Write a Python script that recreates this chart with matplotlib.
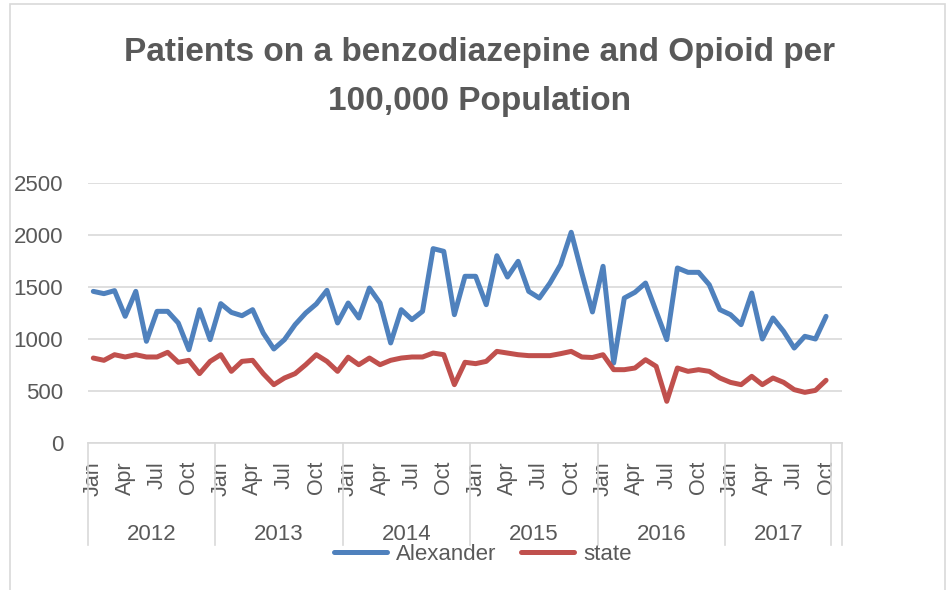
import matplotlib.pyplot as plt
from matplotlib.patches import Rectangle
from matplotlib.transforms import blended_transform_factory

plt.rcParams['font.family'] = ['Liberation Sans', 'DejaVu Sans']

years = [2012, 2013, 2014, 2015, 2016, 2017]
months_per_year = [12, 12, 12, 12, 12, 10]
month_names = ['Jan', 'Feb', 'Mar', 'Apr', 'May', 'Jun',
               'Jul', 'Aug', 'Sep', 'Oct', 'Nov', 'Dec']
shown_months = ['Jan', 'Apr', 'Jul', 'Oct']

alexander = [1458, 1436, 1465, 1218, 1458, 978, 1266, 1266, 1154, 897, 1282, 994,
             1340, 1256, 1224, 1282, 1058, 904, 994, 1138, 1250, 1337, 1468, 1154,
             1346, 1202, 1490, 1346, 962, 1282, 1186, 1266, 1869, 1843, 1234, 1603,
             1603, 1330, 1801, 1596, 1747, 1458, 1394, 1538, 1715, 2026, 1635, 1260,
             1699, 769, 1394, 1449, 1538, 1266, 994, 1683, 1641, 1641, 1522, 1282,
             1234, 1138, 1442, 1000, 1202, 1074, 913, 1026, 1000, 1218]
state = [817, 795, 849, 827, 849, 827, 827, 872, 776, 795, 667, 785,
         849, 689, 785, 795, 667, 561, 625, 667, 753, 849, 785, 689,
         825, 753, 817, 753, 795, 817, 827, 827, 865, 849, 561, 776,
         763, 785, 881, 865, 849, 840, 840, 840, 859, 881, 827, 822,
         849, 705, 705, 721, 801, 737, 401, 721, 689, 705, 689, 625,
         583, 561, 641, 561, 625, 583, 513, 487, 506, 603]

title = 'Patients on a benzodiazepine and Opioid per\n100,000 Population'
text_col = '#595959'
grid_col = '#d9d9d9'

W, H = 948, 590
fig = plt.figure(figsize=(W / 100, H / 100), dpi=100)
fig.patches.append(Rectangle((10 / W, -0.1), 935 / W, 1.1 - 4 / H,
                             transform=fig.transFigure, fill=False,
                             edgecolor=grid_col, lw=1.2))

ax = fig.add_axes([88 / W, 1 - 443 / H, 754 / W, 260 / H])
x = list(range(len(alexander)))
ax.plot(x, alexander, color='#4f81bd', lw=3.6, label='Alexander',
        solid_joinstyle='round', solid_capstyle='round')
ax.plot(x, state, color='#c0504d', lw=3.6, label='state',
        solid_joinstyle='round', solid_capstyle='round')

ax.set_ylim(0, 2500)
ax.set_xlim(-0.5, len(x) + 0.5)
ax.set_yticks(range(0, 2501, 500))
ax.grid(axis='y', color=grid_col, lw=1.2)
ax.set_axisbelow(True)
for s in ['left', 'right', 'top']:
    ax.spines[s].set_visible(False)
ax.spines['bottom'].set_color(grid_col)
ax.spines['bottom'].set_linewidth(1.2)
ax.tick_params(axis='y', length=0, pad=18, labelsize=16, labelcolor=text_col)

# month ticks + year groups
ticks, labels = [], []
pos = 0
bounds = [-0.5]
trans = blended_transform_factory(ax.transData, ax.transAxes)
for yr, n in zip(years, months_per_year):
    for m in range(n):
        if month_names[m] in shown_months:
            ticks.append(pos + m)
            labels.append(month_names[m])
    ax.text(pos + (n - 1) / 2, -92 / 260, str(yr), transform=trans,
            ha='center', va='center', fontsize=16, color=text_col)
    pos += n
    bounds.append(pos - 0.5)
bounds.append(len(x) + 0.5)
ax.set_xticks(ticks)
ax.set_xticklabels(labels, rotation=90)
ax.tick_params(axis='x', length=0, pad=13, labelsize=15.5, labelcolor=text_col)
for b in bounds:
    ax.plot([b, b], [0, -102 / 260], transform=trans, clip_on=False,
            color=grid_col, lw=1.2)

fig.text(479.5 / W, 1 - 77 / H, title, ha='center', va='center',
         fontsize=24, fontweight='bold', color=text_col, linespacing=1.72)

fig.legend(loc='center', bbox_to_anchor=(483 / W, 1 - 554 / H), ncol=2,
           frameon=False, fontsize=16, labelcolor=text_col, handlelength=2.4,
           columnspacing=1.1, handletextpad=0.4)

fig.savefig('out.png', dpi=100)
